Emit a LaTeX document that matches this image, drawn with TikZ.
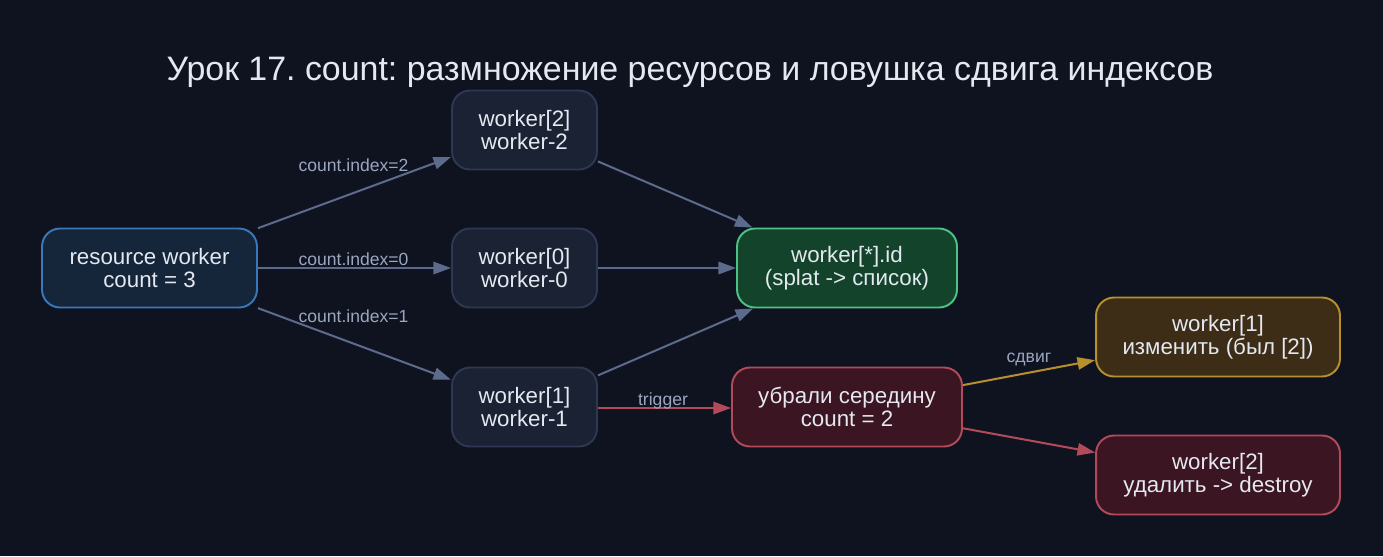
\documentclass[tikz,border=0pt]{standalone}
\usepackage{fontspec}
\setmainfont{Liberation Sans}
\frenchspacing
\usetikzlibrary{arrows.meta}
\definecolor{bg}{HTML}{0F1320}
\definecolor{txt}{HTML}{E4E8F0}
\definecolor{lbltxt}{HTML}{9AA6C0}
\definecolor{edge}{HTML}{5C6A8C}
\definecolor{blueline}{HTML}{3A78BA}
\definecolor{bluefill}{HTML}{15263B}
\definecolor{grayline}{HTML}{2D3852}
\definecolor{grayfill}{HTML}{1B2233}
\definecolor{greenline}{HTML}{4CC385}
\definecolor{greenfill}{HTML}{13442B}
\definecolor{redline}{HTML}{B24A5A}
\definecolor{redfill}{HTML}{3B1521}
\definecolor{goldline}{HTML}{B88F2D}
\definecolor{goldfill}{HTML}{3D2D17}
\tikzset{
  box/.style={rounded corners=0.36cm, line width=1.1pt, text=txt, align=center,
    minimum height=1.58cm, inner sep=0pt,
    font=\fontsize{12.7}{12.8}\selectfont},
  resbox/.style={box, draw=blueline, fill=bluefill, minimum width=4.3cm},
  wbox/.style={box, draw=grayline, fill=grayfill, minimum width=2.9cm},
  splatbox/.style={box, draw=greenline, fill=greenfill, minimum width=4.4cm},
  delbox/.style={box, draw=redline, fill=redfill},
  shiftbox/.style={box, draw=goldline, fill=goldfill, minimum width=4.88cm},
  conn/.style={draw=edge, line width=1.15pt, -{Triangle[length=10pt,width=7pt]}},
  lbl/.style={text=lbltxt, inner sep=0pt, font=\fontsize{10}{10}\selectfont},
}
\begin{document}
\begin{tikzpicture}[x=0.02cm, y=-0.02cm]
 \fill[bg] (0,0) rectangle (1383,556);
 \useasboundingbox (0,0) rectangle (1383,556);
 \node[text=txt, font=\fontsize{19.3}{21}\selectfont] (title) at (690,72)
   {Урок 17. count: размножение ресурсов и ловушка сдвига индексов};
 % nodes
 \node[resbox] (rw) at (149.5,268) {resource worker\\count = 3};
 \node[wbox] (w2) at (524.5,130) {worker[2]\\worker-2};
 \node[wbox] (w0) at (524.5,268) {worker[0]\\worker-0};
 \node[wbox] (w1) at (524.5,407) {worker[1]\\worker-1};
 \node[splatbox] (splat) at (847,268) {worker[*].id\\(splat -> список)};
 \node[delbox, minimum width=4.6cm] (cut) at (847,407) {убрали середину\\count = 2};
 \node[shiftbox] (shift) at (1218,337) {worker[1]\\изменить (был [2])};
 \node[delbox, minimum width=4.88cm] (destroy) at (1218,475) {worker[2]\\удалить -> destroy};
 % edges
 \draw[conn] (rw) -- (w2);
 \draw[conn] (rw) -- (w0);
 \draw[conn] (rw) -- (w1);
 \draw[conn] (w2) -- (splat);
 \draw[conn] (w0) -- (splat);
 \draw[conn] (w1) -- (splat);
 \draw[conn, draw=redline, {-Triangle[length=10pt,width=7pt,fill=redline]}] (w1.east) ++(0,1) coordinate (t0) (t0) -- (cut.west |- t0);
 \draw[conn, draw=goldline, {-Triangle[length=10pt,width=7pt,fill=goldline]}] (cut) -- (shift);
 \draw[conn, draw=redline, {-Triangle[length=10pt,width=7pt,fill=redline]}] (cut) -- (destroy);
 % labels
 \node[lbl] (l2) at (353.5,165) {count.index=2};
 \node[lbl] (l0) at (353.5,259) {count.index=0};
 \node[lbl] (l1) at (353.5,316) {count.index=1};
 \node[lbl] (ltrig) at (663,401) {trigger};
 \node[lbl] (lshift) at (1029,360) {сдвиг};
\end{tikzpicture}
\end{document}
